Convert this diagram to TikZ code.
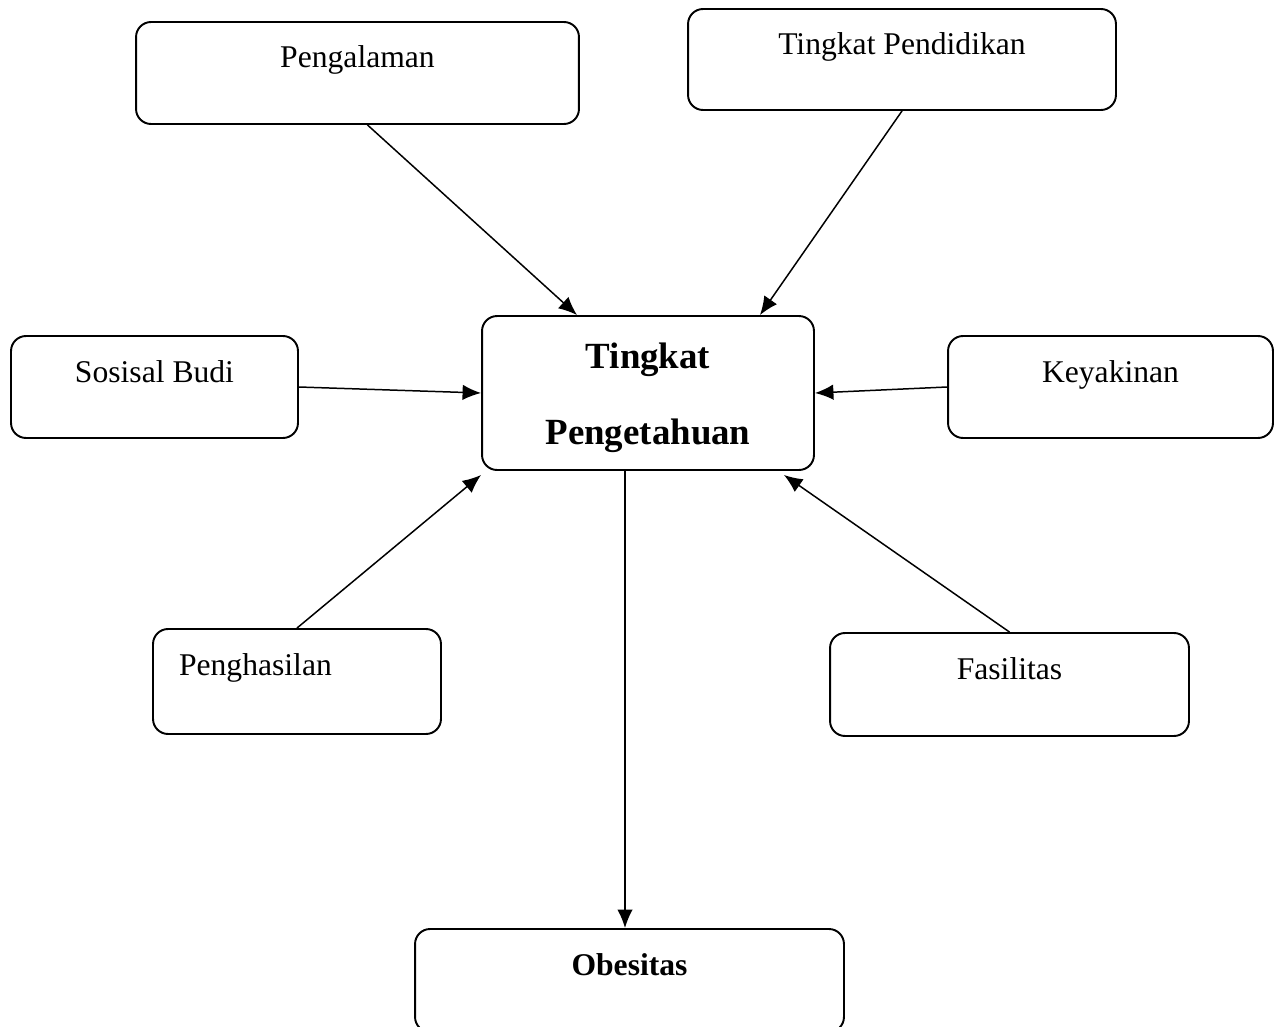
\documentclass[tikz,border=0pt]{standalone}
\usepackage{fontspec}
\setmainfont{Liberation Serif}
\usetikzlibrary{arrows.meta}
\begin{document}
\begin{tikzpicture}[x=0.02cm, y=-0.02cm, font=\fontsize{18}{22}\selectfont, line join=round, line cap=round, >={Latex[length=0.37cm,width=0.31cm]},
	kotak/.style={draw, line width=1.1pt, rounded corners=0.3cm, inner xsep=0pt, inner ysep=0pt, anchor=base, text height=0.92cm, align=center},
	panah/.style={->, line width=0.85pt}]
	\useasboundingbox (0,0) rectangle (1281,1027);
	\node[kotak, minimum width=8.86cm, text depth=1.12cm] (pengalaman) at (357.5,68) {Pengalaman};
	\node[kotak, minimum width=8.56cm, text depth=1.10cm] (pendidikan) at (902,55) {Tingkat Pendidikan};
	\node[kotak, minimum width=5.74cm, text depth=1.12cm] (sosial) at (154.5,382) {Sosisal Budi};
	\node[kotak, minimum width=6.50cm, text depth=1.12cm] (keyakinan) at (1110.5,382) {Keyakinan};
	\node[kotak, minimum width=6.64cm, text height=2.56cm, text depth=0.52cm, font=\bfseries\fontsize{21}{42.7}\selectfont] (pengetahuan) at (648,444) {Tingkat\\Pengetahuan};
	\node[kotak, inner xsep=0.52cm, text width=4.72cm, align=left, text depth=1.18cm] (penghasilan) at (297,675) {Penghasilan};
	\node[kotak, minimum width=7.18cm, text depth=1.14cm] (fasilitas) at (1009.5,679) {Fasilitas};
	\node[kotak, minimum width=8.58cm, text depth=1.14cm, font=\bfseries\fontsize{18}{22}\selectfont] (obesitas) at (629.5,975) {Obesitas};
	\draw[panah] ([xshift=0.2cm]pengalaman.south) -- ([xshift=-1.42cm]pengetahuan.north);
	\draw[panah] (pendidikan.south) -- ([xshift=2.24cm]pengetahuan.north);
	\draw[panah] (sosial.east) -- (pengetahuan.west);
	\draw[panah] (keyakinan.west) -- (pengetahuan.east);
	\draw[panah] (penghasilan.north) -- ([yshift=-0.08cm]pengetahuan.south west);
	\draw[panah] (fasilitas.north) -- ([xshift=-0.62cm,yshift=-0.08cm]pengetahuan.south east);
	\draw[panah] ([xshift=-0.46cm]pengetahuan.south) -- ([xshift=-0.46cm]pengetahuan.south |- obesitas.north);
\end{tikzpicture}
\end{document}
